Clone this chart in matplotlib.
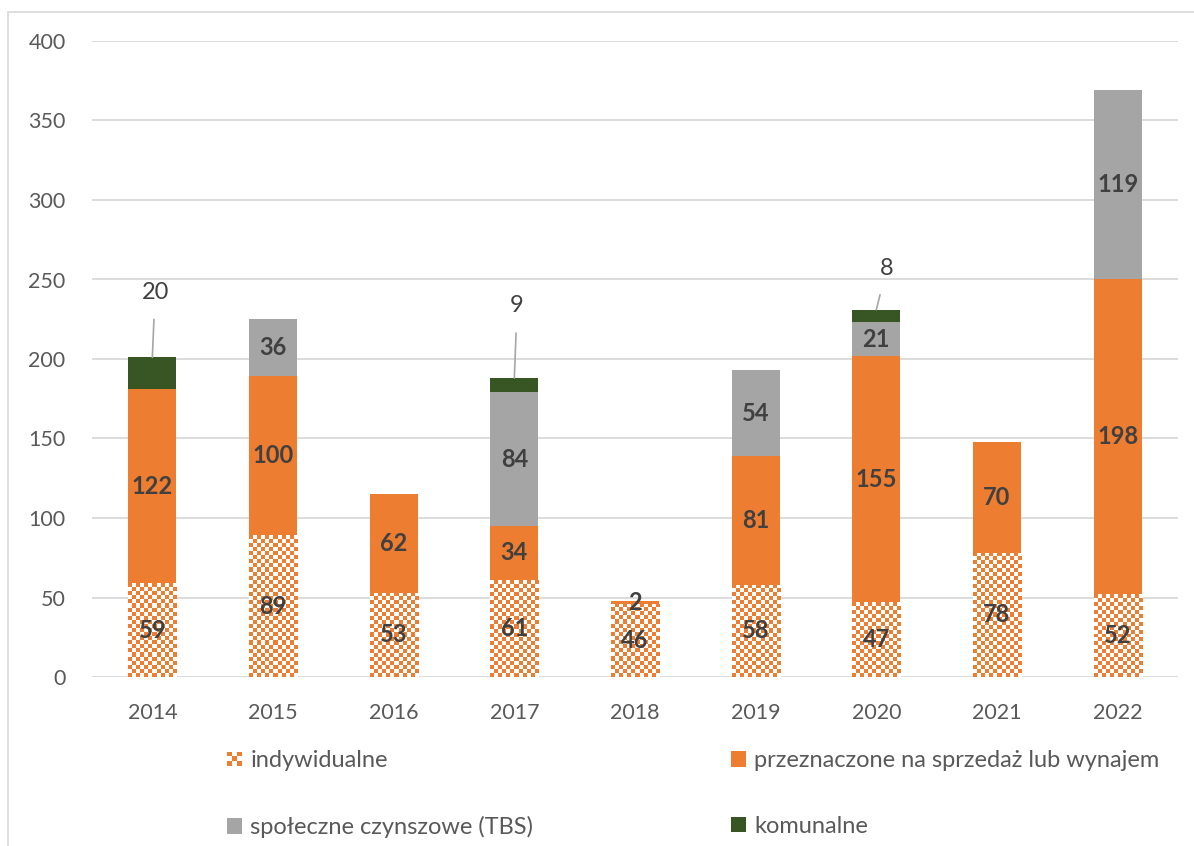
import numpy as np
import matplotlib
matplotlib.use('Agg')
import matplotlib.pyplot as plt
from matplotlib.patches import Rectangle
from matplotlib.legend_handler import HandlerBase

# dane
lata = ['2014', '2015', '2016', '2017', '2018', '2019', '2020', '2021', '2022']
indywidualne = [59, 89, 53, 61, 46, 58, 47, 78, 52]
sprzedaz = [122, 100, 62, 34, 2, 81, 155, 70, 198]
tbs = [0, 36, 0, 84, 0, 54, 21, 0, 119]
komunalne = [20, 0, 0, 9, 0, 0, 8, 0, 0]

nazwy = ['indywidualne', 'przeznaczone na sprzedaż lub wynajem',
         'społeczne czynszowe (TBS)', 'komunalne']

# kolory
ORANGE = '#ED7D31'
GRAY = '#A5A5A5'
GREEN = '#375623'
TXT = '#595959'
LBL = '#404040'

plt.rcParams['font.family'] = ['Lato', 'DejaVu Sans']

fig = plt.figure(figsize=(11.94, 8.46), dpi=100)
ax = fig.add_axes([92 / 1194, 1 - 677 / 846, (1178 - 92) / 1194, (677 - 41) / 846])

x = np.arange(len(lata))
w = 0.4
b1 = np.array(indywidualne)
b2 = b1 + np.array(sprzedaz)
b3 = b2 + np.array(tbs)

bars1 = ax.bar(x, indywidualne, w, color='white', edgecolor='none', zorder=2)
bars2 = ax.bar(x, sprzedaz, w, bottom=b1, color=ORANGE, zorder=2)
bars3 = ax.bar(x, tbs, w, bottom=b2, color=GRAY, zorder=2)
bars4 = ax.bar(x, komunalne, w, bottom=b3, color=GREEN, zorder=2)

ax.set_xlim(-0.5, len(lata) - 0.5)
ax.set_ylim(0, 400)
ax.set_yticks(np.arange(0, 401, 50))
ax.set_xticks(x)
ax.set_xticklabels(lata)
ax.tick_params(length=0, labelsize=15.5, labelcolor=TXT)
ax.tick_params(axis='y', pad=19)
ax.tick_params(axis='x', pad=19)
ax.grid(axis='y', color='#d9d9d9', linewidth=1.3, zorder=0)
for s in ax.spines.values():
    s.set_visible(False)

# wzór szachownicy dla "indywidualne"
orange_rgb = np.array(matplotlib.colors.to_rgb(ORANGE))
cell = 4.0  # px
for p in bars1:
    x0, y0 = p.get_x(), p.get_y()
    x1, y1 = x0 + p.get_width(), y0 + p.get_height()
    (px0, py0), (px1, py1) = ax.transData.transform([(x0, y0), (x1, y1)])
    nc = max(1, int(round((px1 - px0) / cell)))
    nr = max(1, int(round((py1 - py0) / cell)))
    ii, jj = np.meshgrid(np.arange(nr), np.arange(nc), indexing='ij')
    mask = ((ii + jj) % 2 == 0)
    img = np.ones((nr, nc, 3))
    img[mask] = orange_rgb
    im = ax.imshow(img, extent=(x0, x1, y0, y1), aspect='auto',
                   interpolation='nearest', zorder=2.5, origin='lower')
    im.set_clip_path(p)
ax.set_xlim(-0.5, len(lata) - 0.5)
ax.set_ylim(0, 400)

# etykiety wewnątrz słupków
for bars, vals in [(bars1, indywidualne), (bars2, sprzedaz), (bars3, tbs)]:
    labels = [str(v) if v else '' for v in vals]
    ax.bar_label(bars, labels=labels, label_type='center', fontsize=17,
                 fontweight='bold', color=LBL, zorder=4)

# etykiety komunalne z linią
offsets = {0: (2, 47), 3: (2, 52), 6: (7.5, 30)}
for i, v in enumerate(komunalne):
    if not v:
        continue
    ax.annotate(str(v), xy=(x[i], b3[i] + v), xytext=offsets.get(i, (0, 40)),
                textcoords='offset points', ha='center', va='center',
                fontsize=17, color=LBL,
                arrowprops=dict(arrowstyle='-', color='#a6a6a6', lw=1.2,
                                shrinkA=10, shrinkB=0))


class HandlerChecker(HandlerBase):
    def create_artists(self, legend, orig_handle, xdescent, ydescent,
                       width, height, fontsize, trans):
        arts = []
        s = min(width, height)
        n = 3
        c = s / n
        x0 = -xdescent
        y0 = -ydescent + (height - s) / 2
        bg = Rectangle((x0, y0), s, s, facecolor='white', edgecolor='none',
                       transform=trans)
        arts.append(bg)
        for r in range(n):
            for k in range(n):
                if (r + k) % 2 == 0:
                    arts.append(Rectangle((x0 + k * c, y0 + r * c), c, c,
                                          facecolor=ORANGE, edgecolor='none',
                                          transform=trans))
        return arts


h_ind = Rectangle((0, 0), 1, 1, facecolor=ORANGE)
h_spr = Rectangle((0, 0), 1, 1, facecolor=ORANGE)
h_tbs = Rectangle((0, 0), 1, 1, facecolor=GRAY)
h_kom = Rectangle((0, 0), 1, 1, facecolor=GREEN)

leg = fig.legend([h_ind, h_tbs, h_spr, h_kom],
                 [nazwy[0], nazwy[2], nazwy[1], nazwy[3]],
                 ncol=2, loc='upper left', bbox_to_anchor=(206 / 1194, 1 - 729 / 846),
                 frameon=False, fontsize=17, labelcolor=TXT,
                 handlelength=0.62, handleheight=0.62, handletextpad=0.35,
                 columnspacing=8.4, labelspacing=1.9,
                 handler_map={h_ind: HandlerChecker()})

# ramka
fig.patches.append(Rectangle((8 / 1194, -0.1), 1.2, (846 - 12) / 846 + 0.1,
                             transform=fig.transFigure, fill=False,
                             edgecolor='#d9d9d9', linewidth=1.2))

fig.savefig('out.png', dpi=100)
